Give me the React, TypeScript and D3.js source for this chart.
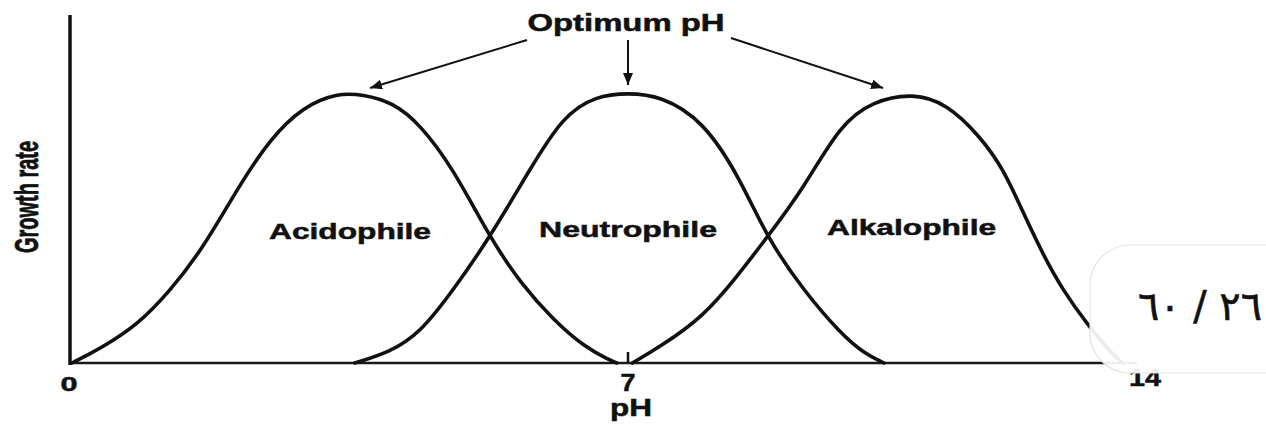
import React from "react";
import * as d3 from "d3";

// pH values and relative growth rate (0..1)
const ACID_PH = [0, 0.2, 0.39, 0.82, 1.23, 1.65, 2.07, 2.49, 2.91, 3.34, 3.66, 4.04, 4.38, 4.8, 5.26, 5.66, 6.06, 6.45, 6.74, 6.86];
const ACID_RATE = [0, 0.03, 0.06, 0.14, 0.265, 0.425, 0.64, 0.83, 0.95, 1.0, 0.995, 0.965, 0.885, 0.72, 0.465, 0.29, 0.16, 0.06, 0.015, 0];

const NEUT_PH = [3.56, 4.0, 4.38, 4.8, 5.26, 5.77, 6.18, 6.6, 7.0, 7.44, 8.03, 8.54, 8.91, 9.41, 9.92, 10.25, 10.52];
const NEUT_RATE = [0, 0.04, 0.11, 0.27, 0.465, 0.72, 0.915, 0.99, 1.0, 0.99, 0.9, 0.685, 0.465, 0.27, 0.11, 0.035, 0];

const ALK_PH = [7.06, 7.44, 8.03, 8.5, 8.91, 9.41, 9.92, 10.37, 10.92, 11.39, 11.84, 12.16, 12.43, 12.71, 12.98, 13.31, 13.67, 13.8];
const ALK_RATE = [0, 0.06, 0.17, 0.32, 0.465, 0.645, 0.885, 0.97, 1.0, 0.96, 0.84, 0.72, 0.56, 0.4, 0.27, 0.145, 0.03, 0];

const X_TICKS = ["0", "7", "14"];
const X_TICK_VALUES = [0, 7, 14];
const SERIES_NAMES = ["Acidophile", "Neutrophile", "Alkalophile"];
const LABEL_PH = [3.5, 7.0, 10.9];
const OPTIMA = [3.4, 7.0, 10.92];
const PAGE_TEXT = "٢٦ / ٦٠";

const FONT = "'Liberation Sans', Arial, Helvetica, sans-serif";

export default function App() {
  const x = d3.scaleLinear().domain([0, 7, 14]).range([72, 628, 1137]);
  const y = d3.scaleLinear().domain([0, 1]).range([363, 93]);

  const line = d3
    .line<[number, number]>()
    .x((d) => x(d[0]))
    .y((d) => y(d[1]))
    .curve(d3.curveBasis);

  const series = [
    ACID_PH.map((p, i) => [p, ACID_RATE[i]] as [number, number]),
    NEUT_PH.map((p, i) => [p, NEUT_RATE[i]] as [number, number]),
    ALK_PH.map((p, i) => [p, ALK_RATE[i]] as [number, number]),
  ];

  const labelWidths = [162, 178, 169];
  const labelBase = [239, 237, 235];
  const arrowStarts: [number, number][] = [
    [527, 40],
    [628, 40],
    [731, 38],
  ];

  return (
    <svg width={1266} height={425} style={{ display: "block", position: "absolute", left: 0, top: 0, background: "#fff" }}>
      <defs>
        <marker id="ah" viewBox="0 0 12 10" refX="12" refY="5" markerWidth="12" markerHeight="10" markerUnits="userSpaceOnUse" orient="auto">
          <path d="M0,0 L12,5 L0,10 Z" fill="#111" />
        </marker>
      </defs>

      {/* axes */}
      <line x1={70} y1={15} x2={70} y2={365} stroke="#111" strokeWidth={3.5} />
      <line x1={70} y1={y(0)} x2={x(14)} y2={y(0)} stroke="#1a1a1a" strokeWidth={2.6} />
      <line x1={x(7)} y1={y(0) - 11} x2={x(7)} y2={y(0)} stroke="#111" strokeWidth={2.5} />

      {/* curves */}
      {series.map((s, i) => (
        <path key={i} d={line(s) || ""} fill="none" stroke="#111" strokeWidth={3.6} strokeLinejoin="round" strokeLinecap="round" />
      ))}

      {/* series labels */}
      {SERIES_NAMES.map((n, i) => (
        <text key={n} x={x(LABEL_PH[i])} y={labelBase[i]} textAnchor="middle" fontFamily={FONT} fontWeight="bold" fontSize={22} textLength={labelWidths[i]} lengthAdjust="spacingAndGlyphs" fill="#111" stroke="#111" strokeWidth={0.5}>
          {n}
        </text>
      ))}

      {/* Optimum pH annotation */}
      <text x={626} y={31} textAnchor="middle" fontFamily={FONT} fontWeight="bold" fontSize={23} textLength={197} lengthAdjust="spacingAndGlyphs" fill="#111" stroke="#111" strokeWidth={0.5}>
        Optimum pH
      </text>
      {OPTIMA.map((p, i) => {
        const tx = i === 1 ? x(p) : x(p) + (i === 0 ? 28 : -30);
        const ty = i === 1 ? y(1) - 8 : y(1) - 5;
        return (
          <line key={i} x1={arrowStarts[i][0]} y1={arrowStarts[i][1]} x2={tx} y2={ty} stroke="#111" strokeWidth={2} markerEnd="url(#ah)" />
        );
      })}

      {/* axis labels */}
      {X_TICKS.map((t, i) => (
        <text key={t} x={x(X_TICK_VALUES[i]) + (i === 0 ? -3 : i === 2 ? 8 : 0)} y={i === 2 ? 386 : 391} textAnchor="middle" fontFamily={FONT} fontWeight="bold" fontSize={i === 0 ? 20 : 24} textLength={i === 0 ? 17 : i === 1 ? 15 : 32} lengthAdjust="spacingAndGlyphs" fill="#111" stroke="#111" strokeWidth={0.5}>
          {t}
        </text>
      ))}
      <text x={631} y={416} textAnchor="middle" fontFamily={FONT} fontWeight="bold" fontSize={23} textLength={42} lengthAdjust="spacingAndGlyphs" fill="#111" stroke="#111" strokeWidth={0.5}>
        pH
      </text>
      <text transform="translate(38,197) rotate(-90)" textAnchor="middle" fontFamily={FONT} fontWeight="bold" fontSize={33} textLength={112} lengthAdjust="spacingAndGlyphs" fill="#111" stroke="#111" strokeWidth={0.8}>
        Growth rate
      </text>

      {/* page number overlay */}
      <rect x={1090} y={245} width={230} height={128} rx={40} ry={40} fill="#fff" fillOpacity={0.92} stroke="#e4e4e4" strokeWidth={1.2} />
      <text x={1200} y={320} textAnchor="middle" fontFamily="'DejaVu Sans', sans-serif" fontSize={40} textLength={124} lengthAdjust="spacingAndGlyphs" fill="#111" stroke="#111" strokeWidth={0.6}>
        {PAGE_TEXT}
      </text>
    </svg>
  );
}
